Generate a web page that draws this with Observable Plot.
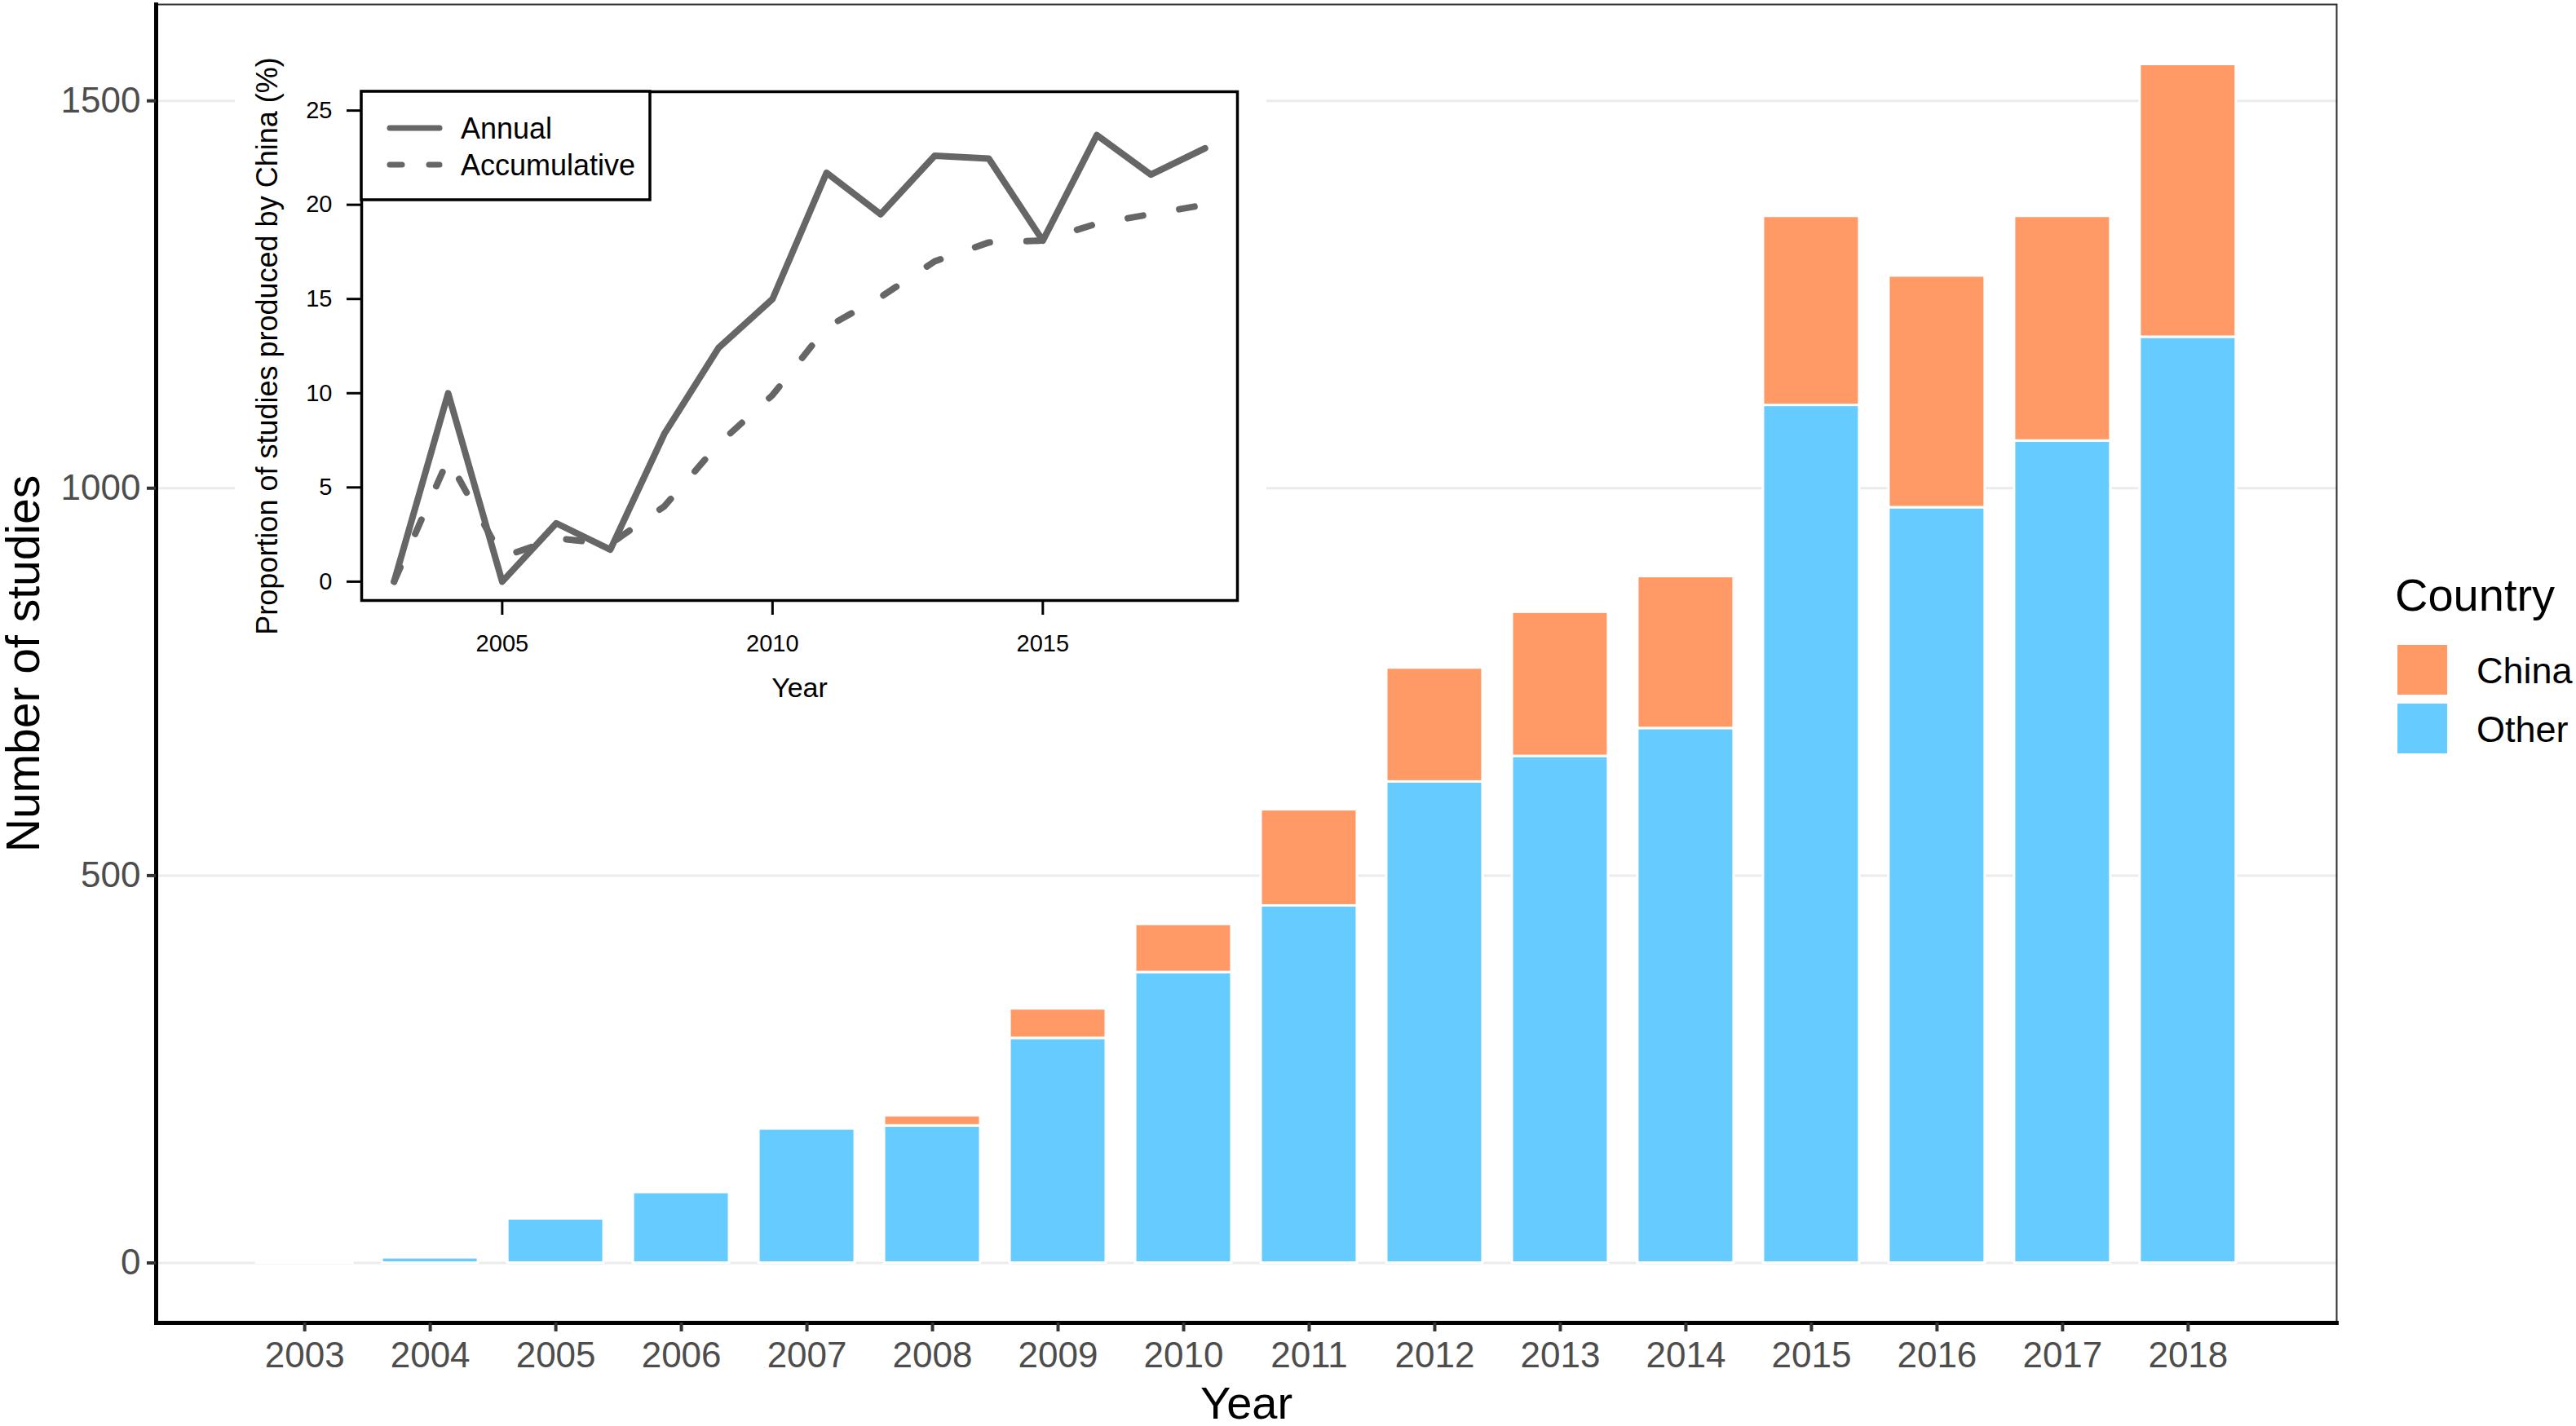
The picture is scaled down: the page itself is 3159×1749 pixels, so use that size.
<!DOCTYPE html>
<html>
<head>
<meta charset="utf-8">
<script src="https://cdn.jsdelivr.net/npm/d3@7"></script>
<script src="https://cdn.jsdelivr.net/npm/@observablehq/plot@0.6"></script>
<style>
  html, body { margin: 0; padding: 0; background: #fff; }
  #wrap { position: relative; width: 3159px; height: 1749px; background: #fff; overflow: hidden; }
  #wrap svg { position: absolute; }
</style>
</head>
<body>
<div id="wrap"></div>
<script>
// ---------- data ----------
const years = ["2003","2004","2005","2006","2007","2008","2009","2010","2011","2012","2013","2014","2015","2016","2017","2018"];
const otherCounts = [1, 7, 57, 91, 173, 177, 290, 375, 461, 621, 654, 690, 1107, 975, 1061, 1195];
const chinaCounts = [0, 1, 0, 0, 0, 13, 38, 62, 124, 147, 186, 196, 244, 299, 290, 352];
const countries = ["China", "Other"];
const countryColors = ["#FF9966", "#66CCFF"];
const yTicks = [0, 500, 1000, 1500];

const insetYears = [2003,2004,2005,2006,2007,2008,2009,2010,2011,2012,2013,2014,2015,2016,2017,2018];
const annualPct = [0, 10, 0, 3.1, 1.7, 7.85, 12.4, 15.0, 21.7, 19.5, 22.6, 22.45, 18.1, 23.7, 21.6, 23.0];
const accumPct  = [0, 6.5, 1.3, 2.3, 2.0, 4.0, 7.3, 9.9, 13.5, 15.1, 17.0, 18.0, 18.1, 19.0, 19.5, 20.0];
const insetYTicks = [0, 5, 10, 15, 20, 25];
const insetXTicks = [2005, 2010, 2015];
const insetSeries = ["Annual", "Accumulative"];

const FONT = "Liberation Sans, Arial, Helvetica, sans-serif";

// ---------- main chart ----------
const bars = [];
years.forEach((y, i) => bars.push({year: y, country: "Other", n: otherCounts[i]}));
years.forEach((y, i) => bars.push({year: y, country: "China", n: chinaCounts[i]}));
const maxTotal = d3.max(years, (y, i) => otherCounts[i] + chinaCounts[i]);

const main = Plot.plot({
  width: 3159,
  height: 1749,
  marginLeft: 191,
  marginRight: 294,
  marginTop: 5,
  marginBottom: 127,
  style: {fontFamily: FONT, background: "transparent", overflow: "visible"},
  x: {type: "band", domain: years, paddingInner: 0.234, paddingOuter: 0.8, align: 0.5, round: false},
  y: {domain: [-0.05 * maxTotal, 1.05 * maxTotal]},
  color: {domain: countries, range: countryColors},
  marks: [
    Plot.gridY(yTicks, {stroke: "#EBEBEB", strokeOpacity: 1, strokeWidth: 3}),
    Plot.barY(bars, {x: "year", y: "n", fill: "country", stroke: "white", strokeWidth: 3}),
    Plot.frame({stroke: "#333333", strokeWidth: 2}),
    Plot.frame({anchor: "left", stroke: "black", strokeWidth: 5}),
    Plot.frame({anchor: "bottom", stroke: "black", strokeWidth: 5}),
    Plot.axisY(yTicks, {tickSize: 11, tickPadding: 8, fontSize: 44, stroke: "#333333", strokeWidth: 4, fill: "#4D4D4D", tickFormat: d3.format("d"), label: null}),
    Plot.axisX({tickSize: 11, tickPadding: 12, fontSize: 44, stroke: "#333333", strokeWidth: 4, fill: "#4D4D4D", label: null}),
    Plot.text(["Number of studies"], {text: d => d, frameAnchor: "left", textAnchor: "middle", dx: -162, rotate: -90, fontSize: 57, fill: "black"}),
    Plot.text(["Year"], {text: d => d, frameAnchor: "bottom", textAnchor: "middle", dy: 117, fontSize: 56, fill: "black"})
  ]
});
main.style.left = "0px";
main.style.top = "0px";
document.getElementById("wrap").appendChild(main);

// ---------- inset ----------
const lineData = [];
insetYears.forEach((y, i) => lineData.push({year: y, series: "Annual", pct: annualPct[i]}));
insetYears.forEach((y, i) => lineData.push({year: y, series: "Accumulative", pct: accumPct[i]}));
const LINE = "#666666";
const DASH = "19,45";
const KEY_DASH = "15,33";

const inset = Plot.plot({
  width: 1265,
  height: 872,
  marginLeft: 155,
  marginRight: 36,
  marginTop: 104,
  marginBottom: 144,
  style: {fontFamily: FONT, background: "white", overflow: "visible"},
  x: {domain: [2002.4, 2018.6]},
  y: {domain: [-1, 26]},
  marks: [
    Plot.line(lineData.filter(d => d.series === "Annual"), {x: "year", y: "pct", stroke: LINE, strokeWidth: 8, strokeLinecap: "round", strokeLinejoin: "round"}),
    Plot.line(lineData.filter(d => d.series === "Accumulative"), {x: "year", y: "pct", stroke: LINE, strokeWidth: 8, strokeDasharray: DASH, strokeLinecap: "round", strokeLinejoin: "round"}),
    Plot.frame({stroke: "black", strokeWidth: 3.5}),
    Plot.axisY(insetYTicks, {tickSize: 18, tickPadding: 18, fontSize: 29, stroke: "black", strokeWidth: 3, fill: "black", label: null}),
    Plot.axisX(insetXTicks, {tickSize: 18, tickPadding: 24, fontSize: 29, stroke: "black", strokeWidth: 3, fill: "black", tickFormat: d3.format("d"), label: null}),
    Plot.text(["Proportion of studies produced by China (%)"], {text: d => d, frameAnchor: "left", textAnchor: "middle", dx: -115, rotate: -90, fontSize: 36, fill: "black"}),
    Plot.text(["Year"], {text: d => d, frameAnchor: "bottom", textAnchor: "middle", dy: 118, fontSize: 34, fill: "black"})
  ]
});
inset.style.left = "288px";
inset.style.top = "8px";
document.getElementById("wrap").appendChild(inset);

// inset legend (box in the top-left corner of the inset panel)
const isv = d3.select(inset);
const lg = isv.append("g").attr("font-family", FONT).attr("text-anchor", "start");
lg.append("rect").attr("x", 155).attr("y", 104).attr("width", 354).attr("height", 133)
  .attr("fill", "white").attr("stroke", "black").attr("stroke-width", 3.5);
const legRows = [{y: 149, dash: null}, {y: 194, dash: KEY_DASH}];
insetSeries.forEach((s, i) => {
  const r = legRows[i];
  const ln = lg.append("line").attr("x1", 190).attr("x2", 251).attr("y1", r.y).attr("y2", r.y)
    .attr("stroke", LINE).attr("stroke-width", 7).attr("stroke-linecap", "round");
  if (r.dash) ln.attr("stroke-dasharray", r.dash);
  lg.append("text").attr("x", 277).attr("y", r.y).attr("dy", "0.35em").attr("text-anchor", "start")
    .attr("font-size", 36).attr("fill", "black").text(s);
});

// ---------- colour legend ----------
const cs = main.scale("color");
const leg = d3.select("#wrap").append("svg")
  .attr("width", 259).attr("height", 280)
  .style("left", "2900px").style("top", "680px")
  .attr("font-family", FONT);
leg.append("text").attr("x", 37).attr("y", 69).attr("font-size", 56).attr("fill", "black").text("Country");
cs.domain.forEach((c, i) => {
  const top = 111 + i * 72;
  leg.append("rect").attr("x", 40).attr("y", top).attr("width", 61).attr("height", 61).attr("fill", cs.range[i]);
  leg.append("text").attr("x", 137).attr("y", top + 30.5).attr("dy", "0.36em")
    .attr("font-size", 45).attr("fill", "black").text(c);
});
</script>
</body>
</html>
